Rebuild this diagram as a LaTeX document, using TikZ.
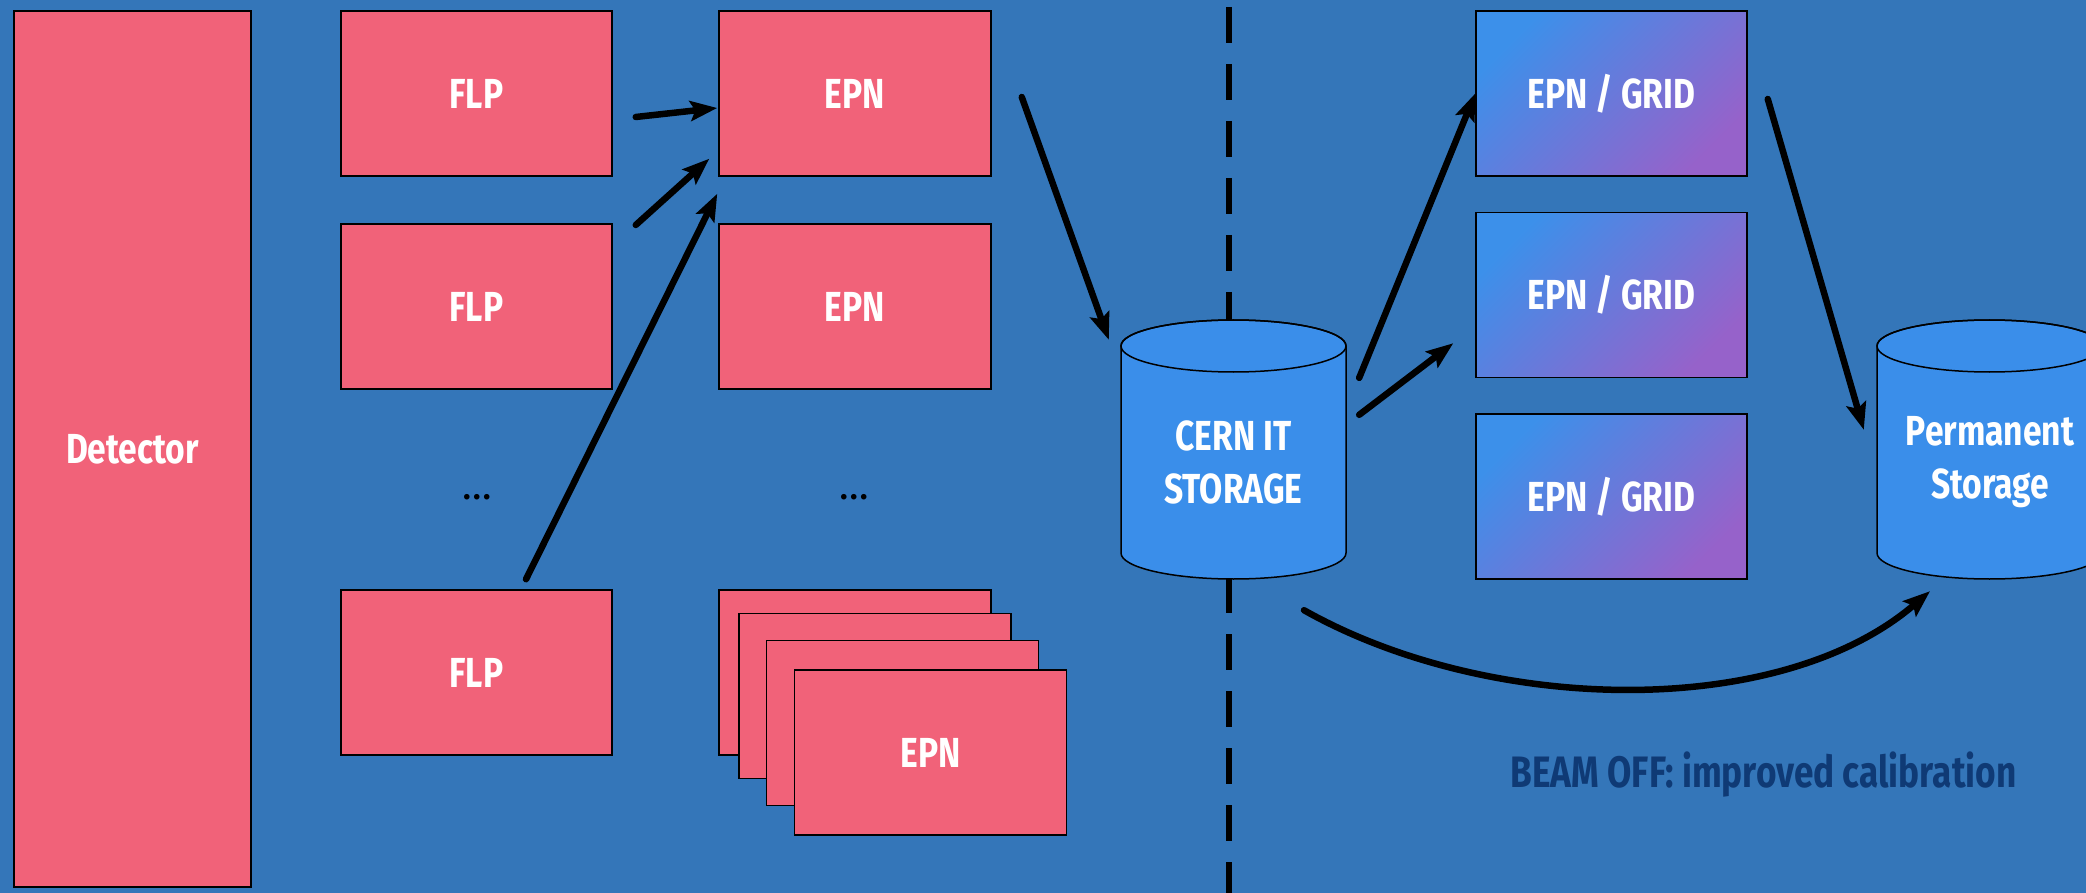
\documentclass[tikz,border=0pt]{standalone}
\usepackage{fontspec}
\setmainfont{Fira Sans}[FakeStretch=0.8]
\newfontfamily\dotsfont{Fira Sans}
\usetikzlibrary{arrows.meta,calc}
\definecolor{bg}{HTML}{3476B9}
\definecolor{pinkbox}{HTML}{F16279}
\definecolor{cyl}{HTML}{3A8EEA}
\definecolor{gridA}{HTML}{3C90EA}
\definecolor{gridB}{HTML}{9662CA}
\definecolor{navy}{HTML}{0F3A75}
\begin{document}
\begin{tikzpicture}[x=1pt,y=-1pt,
  lblfont/.style={font=\fontsize{42}{53}\selectfont\bfseries},
  box/.style={draw=black,line width=1.5pt,fill=pinkbox,minimum width=271pt,minimum height=165pt,inner sep=0pt,text=white,lblfont},
  gridbox/.style={box,top color=gridA,bottom color=gridB,shading angle=45},
  ghost/.style={draw=none,fill=none,inner sep=0pt,minimum width=225pt,minimum height=259pt},
  cylbody/.style={draw=black,line width=1.5pt,fill=cyl},
  lbl/.style={text=white,lblfont,align=center},
  arr/.style={line width=6.5pt,line cap=round,-{Stealth[length=27pt,width=20pt,inset=5pt]}},
  dotsnode/.style={font=\dotsfont\fontsize{40}{44}\selectfont,text=black,inner sep=0pt}]
\useasboundingbox (0,0) rectangle (2086,893);
\fill[bg] (0,0) rectangle (2086,893);
\clip (0,0) rectangle (2086,893);

% dashed separator
\coordinate (sepTop) at (1229,7);
\coordinate (sepBot) at (1229,900);
\draw[line width=6.5pt,dash pattern=on 36pt off 21pt] (sepTop) -- (sepBot);

% detector
\node[box,minimum width=237pt,minimum height=876pt] (det) at (132.5,449) {Detector};

% FLPs
\node[box] (flp1) at (476.5,93.5) {FLP};
\node[box] (flp2) at (476.5,306.5) {FLP};
\node[box] (flp3) at (476.5,672.5) {FLP};
\node[dotsnode] (dots1) at (477,497) {…};

% EPNs
\node[box,minimum width=272pt] (epn1) at (855,93.5) {EPN};
\node[box,minimum width=272pt] (epn2) at (855,306.5) {EPN};
\node[dotsnode] (dots2) at (854,497) {…};
\node[box,minimum width=272pt] (epnA) at (855,672.5) {};
\node[box,minimum width=272pt] (epnB) at (875,696) {};
\node[box,minimum width=272pt] (epnC) at (902.5,723) {};
\node[box,minimum width=272pt] (epnD) at (930.5,752.5) {EPN};

% CERN IT storage cylinder
\node[ghost] (cern) at (1233.5,449.5) {};
\draw[cylbody] (1121,346) -- (1121,553)
  arc[start angle=180,end angle=360,x radius=112.5pt,y radius=26pt]
  -- (1346,346)
  arc[start angle=0,end angle=180,x radius=112.5pt,y radius=26pt] -- cycle;
\draw[line width=1.5pt] (1233.5,346) ellipse [x radius=112.5pt,y radius=26pt];
\node[lbl] (cernlbl) at (1233.5,462) {CERN IT\\STORAGE};

% EPN / GRID boxes
\node[gridbox] (grid1) at (1611.5,93.5) {EPN / GRID};
\node[gridbox] (grid2) at (1611.5,295) {EPN / GRID};
\node[gridbox] (grid3) at (1611.5,496.5) {EPN / GRID};

% Permanent storage cylinder
\node[ghost] (perm) at (1989.5,449.5) {};
\draw[cylbody] (1877,346) -- (1877,553)
  arc[start angle=180,end angle=360,x radius=112.5pt,y radius=26pt]
  -- (2102,346)
  arc[start angle=0,end angle=180,x radius=112.5pt,y radius=26pt] -- cycle;
\draw[line width=1.5pt] (1989.5,346) ellipse [x radius=112.5pt,y radius=26pt];
\node[lbl] (permlbl) at (1990,462) {Permanent\\Storage};

% arrows
\draw[arr] ($(flp1.east)+(23,23.5)$) -- ($(epn1.west)+(-1,14.5)$);
\draw[arr] ($(flp2.east)+(23,-81.5)$) -- ($(epn1.south west)+(-9,-18)$);
\draw[arr] ($(flp3.north)+(49.5,-10)$) -- ($(epn1.south west)+(-1,17)$);
\draw[arr] ($(epn1.east)+(30,3.5)$) -- ($(cern.north west)+(-12,20)$);
\draw[arr] ($(cern.north east)+(13,58)$) -- (grid1.west);
\draw[arr] ($(cern.north east)+(13,95)$) -- ($(grid2.south west)+(-22,-35)$);
\draw[arr] ($(grid1.east)+(20,5.5)$) -- ($(perm.north west)+(-13,110)$);
\draw[arr] ($(cern.south)+(70.5,31)$) .. controls (1490,715) and (1780,720) .. ($(perm.south)+(-59.5,12)$);

% caption
\node[anchor=base,text=navy,font=\fontsize{44}{50}\selectfont\bfseries,inner sep=0pt] (caption) at (1763.5,787) {BEAM OFF: improved calibration};
\end{tikzpicture}
\end{document}
